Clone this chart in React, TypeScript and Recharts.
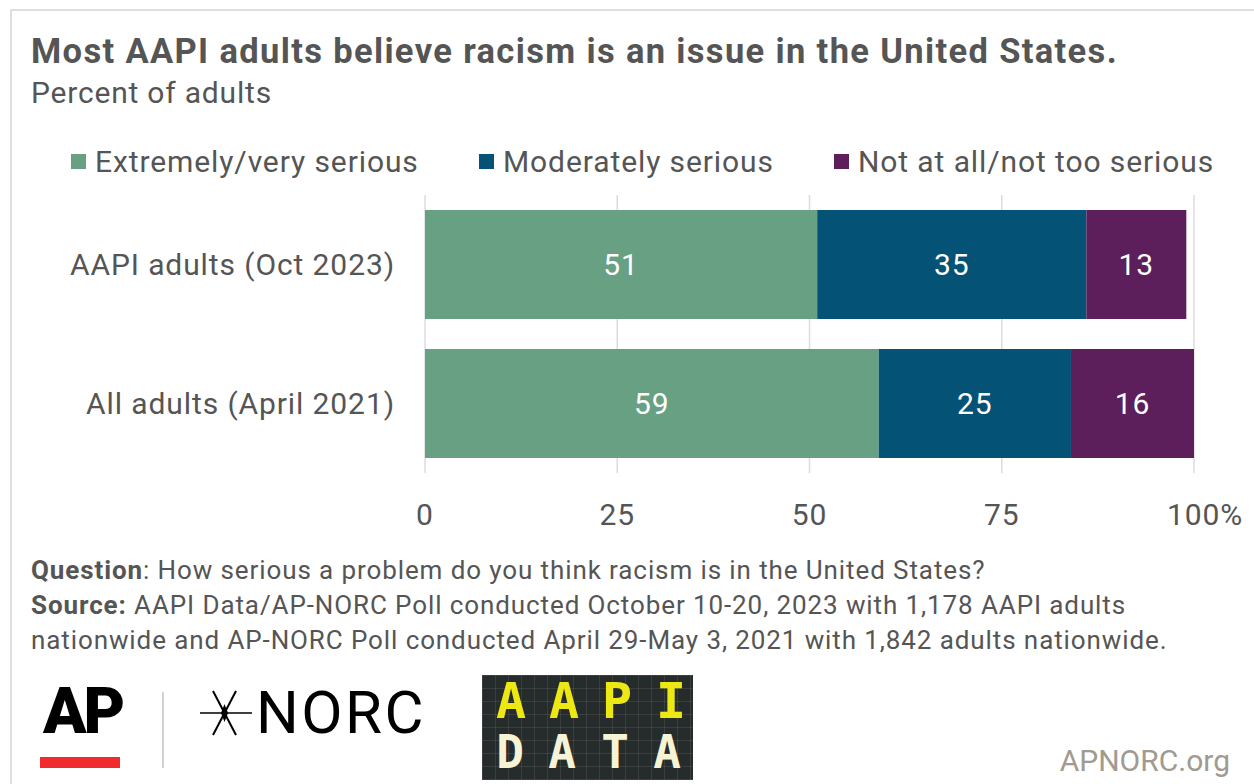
import { BarChart, Bar, XAxis, YAxis, CartesianGrid, LabelList } from "recharts";

const groups = ["AAPI adults (Oct 2023)", "All adults (April 2021)"];
const extremely = [51, 59];
const moderately = [35, 25];
const notSerious = [13, 16];
const xTicks = [0, 25, 50, 75, 100];

const series = [
  { key: "extremely", name: "Extremely/very serious", color: "#68a083" },
  { key: "moderately", name: "Moderately serious", color: "#045275" },
  { key: "notSerious", name: "Not at all/not too serious", color: "#5c1f5b" },
];

const data = groups.map((g, i) => ({
  group: g,
  extremely: extremely[i],
  moderately: moderately[i],
  notSerious: notSerious[i],
}));

const font = "Roboto, 'Noto Sans', sans-serif";
const textColor = "#555555";
const ls = 0.9;

const XTick = (props: any) => {
  const { x, y, payload } = props;
  const v = payload.value;
  return (
    <text
      x={x + (v === 100 ? 11 : 0)}
      y={y}
      dy={18}
      textAnchor="middle"
      fontSize={30}
      fill={textColor}
      fontFamily={font}
      letterSpacing={ls}
    >
      {v === 100 ? "100%" : v}
    </text>
  );
};

const YTick = (props: any) => {
  const { x, y, payload } = props;
  return (
    <text
      x={x}
      y={y}
      dy={10}
      textAnchor="end"
      fontSize={30}
      fill={textColor}
      fontFamily={font}
      letterSpacing={ls}
    >
      {payload.value}
    </text>
  );
};

const aapi = ["A", "A", "P", "I"];
const dataWord = ["D", "A", "T", "A"];
const row1X = [511, 564, 617, 671];
const row2X = [510, 562, 615, 667];

export default function App() {
  return (
    <div
      style={{
        position: "absolute",
        top: 0,
        left: 0,
        width: 1254,
        height: 784,
        background: "#fff",
        fontFamily: font,
        overflow: "hidden",
      }}
    >
      {/* card edge */}
      <div
        style={{
          position: "absolute",
          left: 10,
          top: 9,
          width: 1260,
          height: 800,
          borderTop: "2px solid #dedede",
          borderLeft: "2px solid #dedede",
        }}
      />
      <div
        style={{
          position: "absolute",
          left: 31,
          top: 31,
          fontSize: 34.5,
          fontWeight: 700,
          color: textColor,
          letterSpacing: 1.35,
          whiteSpace: "nowrap",
        }}
      >
        Most AAPI adults believe racism is an issue in the United States.
      </div>
      <div style={{ position: "absolute", left: 31, top: 75, fontSize: 30, color: textColor, letterSpacing: 0.8 }}>
        Percent of adults
      </div>

      {/* legend */}
      {series.map((s, i) => (
        <div
          key={s.key}
          style={{
            position: "absolute",
            left: [71, 479, 834][i],
            top: 144,
            display: "flex",
            alignItems: "center",
            fontSize: 30,
            color: textColor,
            whiteSpace: "nowrap",
            letterSpacing: ls,
          }}
        >
          <span style={{ width: 15, height: 15, background: s.color, display: "inline-block", marginRight: 9 }} />
          {s.name}
        </div>
      ))}

      <div style={{ position: "absolute", left: 0, top: 190 }}>
        <BarChart
          width={1254}
          height={345}
          data={data}
          layout="vertical"
          margin={{ top: 5, right: 60, bottom: 0, left: 0 }}
          barSize={109}
        >
          <CartesianGrid horizontal={false} stroke="#dcdcdc" strokeWidth={1.5} />
          <XAxis
            type="number"
            domain={[0, 100]}
            ticks={xTicks}
            axisLine={false}
            tickLine={false}
            height={62}
            tickMargin={28}
            tick={<XTick />}
          />
          <YAxis
            type="category"
            dataKey="group"
            width={425}
            axisLine={false}
            tickLine={false}
            tickMargin={24}
            tick={<YTick />}
          />
          {series.map((s) => (
            <Bar key={s.key} dataKey={s.key} stackId="a" fill={s.color} isAnimationActive={false}>
              <LabelList
                dataKey={s.key}
                position="center"
                fill="#ffffff"
                fontSize={30}
                fontFamily={font}
                letterSpacing={ls}
              />
            </Bar>
          ))}
        </BarChart>
      </div>

      {/* notes */}
      <div
        style={{
          position: "absolute",
          left: 31,
          top: 553,
          fontSize: 26,
          lineHeight: "35px",
          color: textColor,
          letterSpacing: 0.9,
          width: 1220,
          whiteSpace: "nowrap",
        }}
      >
        <div>
          <b>Question</b>: How serious a problem do you think racism is in the United States?
        </div>
        <div>
          <b>Source:</b> AAPI Data/AP-NORC Poll conducted October 10-20, 2023 with 1,178 AAPI adults
        </div>
        <div>nationwide and AP-NORC Poll conducted April 29-May 3, 2021 with 1,842 adults nationwide.</div>
      </div>

      {/* logos */}
      <div
        style={{
          position: "absolute",
          left: 43,
          top: 674,
          fontSize: 64,
          fontWeight: 900,
          color: "#000",
          letterSpacing: -3,
          lineHeight: "75px",
        }}
      >
        AP
      </div>
      <div style={{ position: "absolute", left: 40, top: 757, width: 80, height: 11, background: "#ef2b2d" }} />
      <div style={{ position: "absolute", left: 162, top: 692, width: 2, height: 76, background: "#d4d2cc" }} />
      <svg style={{ position: "absolute", left: 200, top: 690 }} width={52} height={48}>
        <line x1={0} y1={23} x2={52} y2={23} stroke="#000" strokeWidth={1.5} />
        <line x1={13} y1={1} x2={36} y2={45} stroke="#000" strokeWidth={2} />
        <line x1={36} y1={1} x2={13} y2={45} stroke="#000" strokeWidth={2} />
        <polygon points="24.5,14 28,23 24.5,32 21,23" fill="#000" />
      </svg>
      <div
        style={{
          position: "absolute",
          left: 256,
          top: 675,
          fontSize: 60,
          color: "#000",
          whiteSpace: "nowrap",
          lineHeight: "75px",
          letterSpacing: 2.5,
        }}
      >
        NORC
      </div>
      <div
        style={{
          position: "absolute",
          left: 482,
          top: 675,
          width: 211,
          height: 105,
          background: "#262b2c",
          backgroundImage:
            "linear-gradient(rgba(255,255,255,0.09) 1px, transparent 1px), linear-gradient(90deg, rgba(255,255,255,0.09) 1px, transparent 1px)",
          backgroundSize: "13px 13px",
        }}
      />
      {aapi.map((c, i) => (
        <div
          key={"a" + i}
          style={{
            position: "absolute",
            left: row1X[i] - 20,
            width: 40,
            textAlign: "center",
            top: 672,
            lineHeight: "58px",
            fontFamily: "'DejaVu Sans Mono', monospace",
            fontWeight: 700,
            fontSize: 50,
            color: "#ede814",
          }}
        >
          {c}
        </div>
      ))}
      {dataWord.map((c, i) => (
        <div
          key={"d" + i}
          style={{
            position: "absolute",
            left: row2X[i] - 20,
            width: 40,
            textAlign: "center",
            top: 723,
            lineHeight: "58px",
            fontFamily: "'DejaVu Sans Mono', monospace",
            fontWeight: 700,
            fontSize: 46,
            color: "#f7f4d6",
          }}
        >
          {c}
        </div>
      ))}
      <div
        style={{
          position: "absolute",
          right: 24,
          top: 743,
          fontSize: 30,
          color: "#a09a90",
        }}
      >
        APNORC.org
      </div>
    </div>
  );
}
